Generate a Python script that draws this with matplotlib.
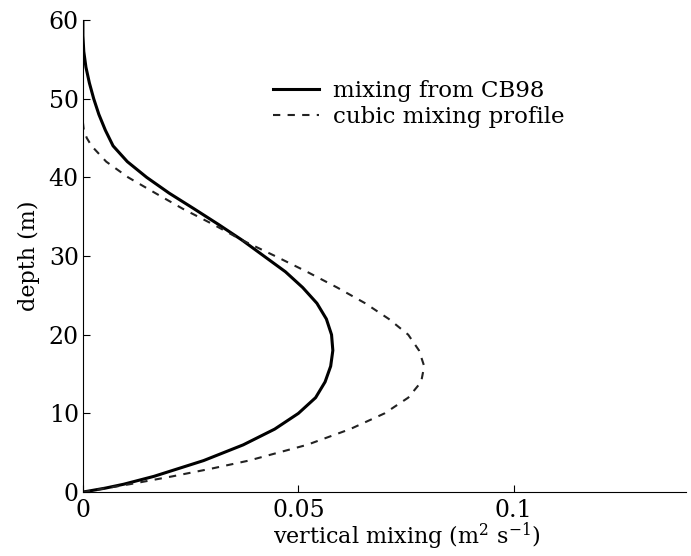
import numpy as np
import matplotlib.pyplot as plt

plt.rcParams['font.family'] = ['DejaVu Serif']
plt.rcParams['mathtext.fontset'] = 'dejavuserif'

# mixing from CB98
cb98_depth = [60, 58, 56, 54, 52, 50, 48, 46, 44, 42, 40, 38, 36, 34, 32, 30, 28, 26,
              24, 22, 20, 18, 16, 14, 12, 10, 8, 6, 4, 2, 1, 0.5, 0]
cb98_mix = [0, 0, 0.0002, 0.0007, 0.0015, 0.0025, 0.0037, 0.0052, 0.0070, 0.0103,
            0.0148, 0.0200, 0.0258, 0.0315, 0.0370, 0.0420, 0.0470, 0.0510, 0.0543,
            0.0565, 0.0577, 0.0580, 0.0575, 0.0562, 0.0540, 0.0500, 0.0445, 0.0372,
            0.0280, 0.0165, 0.0095, 0.0052, 0]

# cubic mixing profile
cubic_depth = [47, 46, 45, 44, 42, 40, 38, 36, 34, 32, 30, 28, 26, 24, 22, 20, 18,
               16, 14, 12, 10, 8, 6, 4, 3, 2, 1, 0]
cubic_mix = [0, 0.0002, 0.0009, 0.0020, 0.0054, 0.0105, 0.0168, 0.0232, 0.0303,
             0.0370, 0.0446, 0.0520, 0.0590, 0.0655, 0.0710, 0.0755, 0.0780, 0.0792,
             0.0785, 0.0755, 0.0700, 0.0620, 0.0520, 0.0385, 0.0300, 0.0208, 0.0109, 0]

fig = plt.figure(figsize=(6.91, 5.56), dpi=100)
ax = fig.add_axes([0.120, 0.115, 0.873, 0.849])

ax.plot(cb98_mix, cb98_depth, color='black', linewidth=2.2, label='mixing from CB98')
ax.plot(cubic_mix, cubic_depth, color='#222222', linewidth=1.5, linestyle=(0, (3.5, 3.5)),
        label='cubic mixing profile')

ax.set_xlim(0, 0.14)
ax.set_ylim(0, 60)
ax.set_xticks([0, 0.05, 0.1])
ax.set_xticklabels(['0', '0.05', '0.1'])
ax.set_yticks(range(0, 61, 10))
ax.tick_params(direction='in', labelsize=17, length=5)
ax.tick_params(axis='x', pad=5)
ax.tick_params(axis='y', pad=3)

ax.spines['top'].set_visible(False)
ax.spines['right'].set_visible(False)

ax.set_xlabel('vertical mixing (m$^2$ s$^{-1}$)', fontsize=16, labelpad=-1, x=0.537)
ax.set_ylabel('depth (m)', fontsize=16, labelpad=6)

ax.legend(loc='upper left', bbox_to_anchor=(0.315, 0.872), frameon=False, fontsize=16.5,
          handlelength=2.0, handletextpad=0.6, labelspacing=0.15, borderpad=0,
          borderaxespad=0)

fig.savefig('out.png', dpi=100)
